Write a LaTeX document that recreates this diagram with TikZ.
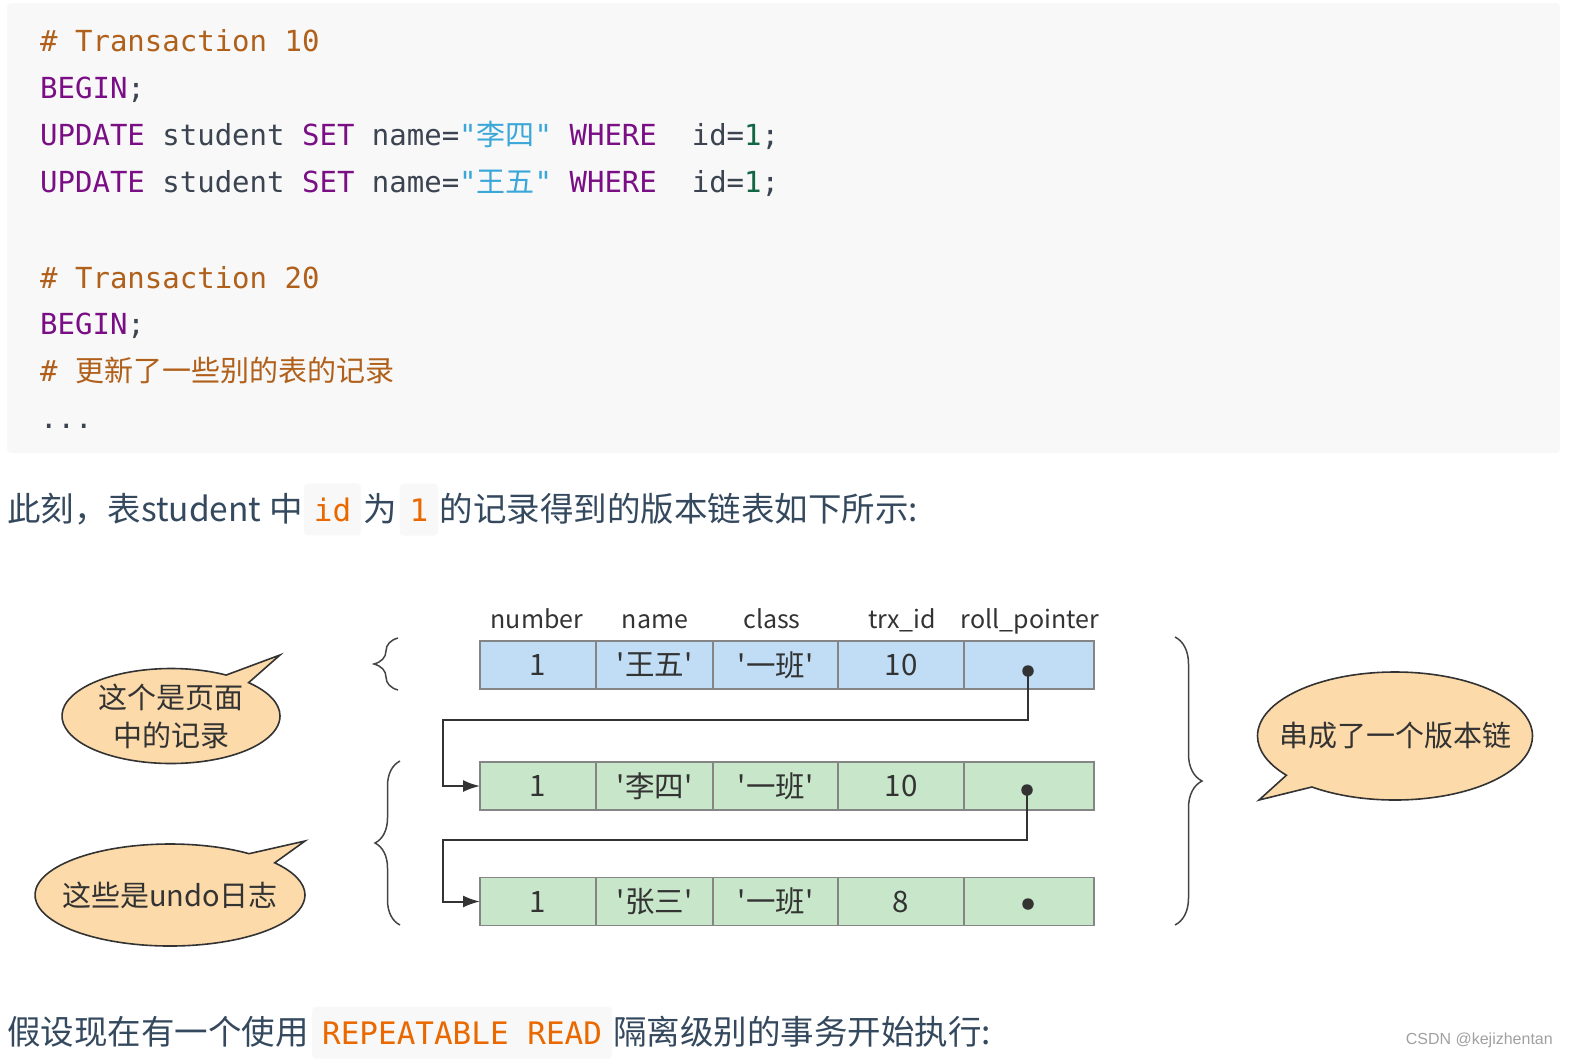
\documentclass[tikz,border=0pt]{standalone}
\usepackage{fontspec}
\setmainfont{Noto Sans CJK SC}[Ligatures=TeXOff]
\setmonofont{DejaVu Sans Mono}
\newfontfamily\cjk[Ligatures=TeXOff]{Noto Sans CJK SC}
\newfontfamily\wmfont{Liberation Sans}
\usetikzlibrary{arrows.meta,shapes.callouts,decorations.pathreplacing,positioning}

\definecolor{codebg}{HTML}{F8F8F8}
\definecolor{codefg}{HTML}{3B4450}
\definecolor{cmt}{HTML}{B0601A}
\definecolor{kwc}{HTML}{7A0F85}
\definecolor{strc}{HTML}{3AA7D8}
\definecolor{nbc}{HTML}{116644}
\definecolor{chipfg}{HTML}{E96900}
\definecolor{parafg}{HTML}{34495E}
\definecolor{txt}{HTML}{333333}
\definecolor{cellline}{HTML}{858585}
\definecolor{rowblue}{HTML}{C0DDF5}
\definecolor{rowgreen}{HTML}{C8E6CA}
\definecolor{bubfill}{HTML}{FCDAA9}
\definecolor{brcol}{HTML}{444444}
\definecolor{wmc}{HTML}{A0A0A0}

\newcommand{\kw}[1]{\textcolor{kwc}{#1}}
\newcommand{\strv}[1]{\textcolor{strc}{"{\cjk #1}"}}
\newcommand{\nbv}[1]{\textcolor{nbc}{#1}}

\begin{document}
\begin{tikzpicture}[x=1pt, y=-1pt,
  code/.style={anchor=base west, inner sep=0, text=codefg, font=\ttfamily\fontsize{29}{29}\selectfont},
  para/.style={anchor=base west, inner sep=0, text=parafg, font=\fontsize{33.5}{33.5}\selectfont},
  chip/.style={anchor=base west, fill=codebg, rounded corners=4, inner xsep=10, inner ysep=0, minimum height=52, text=chipfg, font=\ttfamily\fontsize{31}{31}\selectfont},
  head/.style={anchor=base, inner sep=0, text=txt, font=\fontsize{25}{25}\selectfont},
  cell/.style={draw=cellline, line width=1.6, minimum height=48, inner sep=0, outer sep=0, text=txt, font=\fontsize{29.5}{29.5}\selectfont},
  dot/.style={circle, fill=txt, inner sep=0, minimum size=11.5},
  link/.style={draw=txt, line width=2, -{Latex[length=17pt,width=12pt]}},
  brc/.style={draw=brcol, line width=1.5, decorate, decoration={brace, amplitude=#1}},
  bubble/.style={ellipse callout, draw=txt, fill=bubfill, line width=1.6, inner sep=0},
  bubtext/.style={text=txt, align=center, font=\fontsize{29}{38}\selectfont}]
  \useasboundingbox (0,0) rectangle (1570,1058);

  % code block
  \fill[codebg, rounded corners=4] (7,3) rectangle (1560,453);
  \node[code] (l1) at (40,51) {\textcolor{cmt}{\# Transaction 10}};
  \node[code] (l2) at (40,98) {\kw{BEGIN};};
  \node[code] (l3) at (40,145) {\kw{UPDATE} student \kw{SET} name=\strv{李四} \kw{WHERE}\ \ id=\nbv{1};};
  \node[code] (l4) at (40,192) {\kw{UPDATE} student \kw{SET} name=\strv{王五} \kw{WHERE}\ \ id=\nbv{1};};
  \node[code] (l5) at (40,288) {\textcolor{cmt}{\# Transaction 20}};
  \node[code] (l6) at (40,334) {\kw{BEGIN};};
  \node[code] (l7) at (40,381) {\textcolor{cmt}{\# {\cjk 更新了一些别的表的记录}}};
  \node[code] (l8) at (40,428) {...};

  % text lines
  \node[para] (t1) at (7,521) {此刻，表student 中};
  \node[chip] (t2) at ([xshift=1]t1.base east) {id};
  \node[para] (t3) at ([xshift=2]t2.base east) {为};
  \node[chip] (t4) at ([xshift=2]t3.base east) {1};
  \node[para] (t5) at ([xshift=1]t4.base east) {的记录得到的版本链表如下所示:};

  \node[para] (b1) at (7,1044) {假设现在有一个使用};
  \node[chip] (b2) at ([xshift=3]b1.base east) {REPEATABLE READ};
  \node[para] (b3) at ([xshift=1]b2.base east) {隔离级别的事务开始执行:};
  \node[anchor=base east, inner sep=0, text=wmc, font=\wmfont\fontsize{16}{16}\selectfont] (wm) at (1553,1044) {CSDN @kejizhentan};

  % version chain
  \foreach \t/\cx [count=\i] in {number/537, name/655, class/772, trx\_id/902, roll\_pointer/1030}
    \node[head] (h\i) at (\cx,628) {\t};

  \foreach \r/\ry/\rc/\nm/\tid in {a/664/rowblue/{'王五'}/10, b/785/rowgreen/{'李四'}/10, c/900.5/rowgreen/{'张三'}/8}{
    \foreach \t/\cx/\w [count=\i] in {1/538/116, \nm/654.5/117, {'一班'}/775.5/125, \tid/901/126, {}/1029/130}
      \node[cell, fill=\rc, minimum width=\w] (\r\i) at (\cx,\ry+1) {\t};
  }

  \node[dot] (da) at (1028,671) {};
  \node[dot] (db) at (1027,790) {};
  \node[dot] (dc) at (1028,904) {};

  \coordinate (ja) at (443,720);
  \coordinate (jb) at (443,840);
  \draw[link] (da.center) |- (ja) |- (b1.west);
  \draw[link] (db.center) |- (jb) |- (c1.west);

  % braces
  \draw[brc=24pt] (398,690) -- (398,638);
  \draw[brc=25pt] (400,925) -- (400,761);
  \draw[brc=27pt] (1175,637) -- (1175,925);

  % callouts
  \coordinate (pa) at (280,655);
  \coordinate (pb) at (305,841);
  \coordinate (pc) at (1259,800);
  \node[bubble, minimum width=218, minimum height=95, callout absolute pointer={(pa)}] (s1) at (171,716) {};
  \node[bubtext] (s1t) at (s1.center) {这个是页面\\中的记录};
  \node[bubble, minimum width=270, minimum height=102, callout absolute pointer={(pb)}] (s2) at (170,895) {};
  \node[bubtext] (s2t) at (s2.center) {这些是undo日志};
  \node[bubble, minimum width=275, minimum height=128, callout absolute pointer={(pc)}] (s3) at (1395,736) {};
  \node[bubtext] (s3t) at (s3.center) {串成了一个版本链};
\end{tikzpicture}
\end{document}
